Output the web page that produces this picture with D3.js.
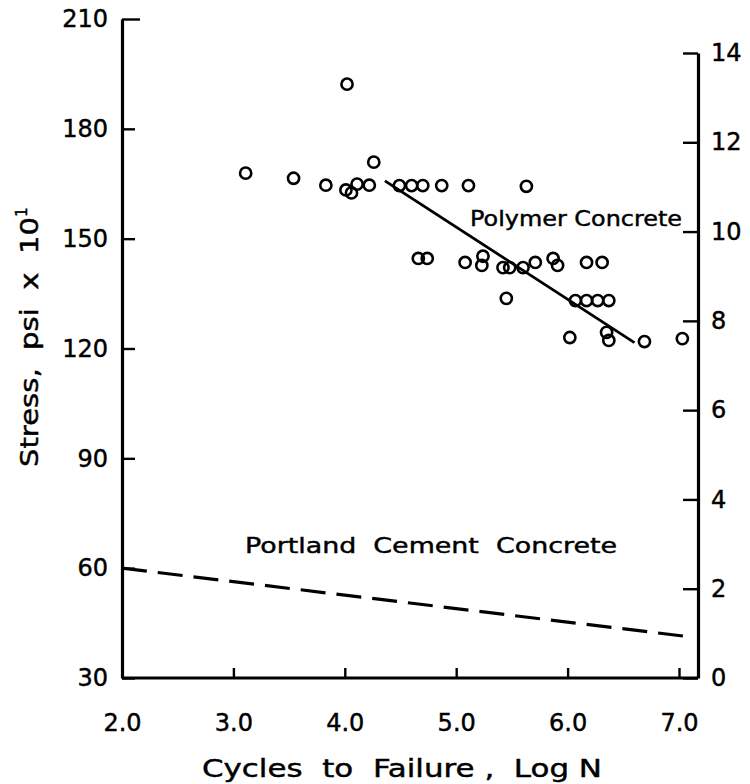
<!DOCTYPE html>
<html>
<head>
<meta charset="utf-8">
<script src="https://cdn.jsdelivr.net/npm/d3@7"></script>
<style>
  html, body { margin: 0; padding: 0; background: #fff; }
  svg { display: block; }
  text { font-family: "DejaVu Sans", sans-serif; fill: #000; stroke: #000; stroke-width: 0.45px; white-space: pre; }
</style>
</head>
<body>
<svg id="chart" width="750" height="784"></svg>
<script>
// ---- data ----
const polyLogN   = [3.11, 3.54, 3.83, 4.01, 4.06, 4.11, 4.22, 4.26, 4.02,
                    4.49, 4.60, 4.70, 4.87, 5.11, 5.63,
                    4.66, 4.74, 5.08, 5.23, 5.24, 5.42, 5.48, 5.60, 5.71, 5.87, 5.91, 6.17, 6.31,
                    5.45, 6.07, 6.17, 6.27, 6.37,
                    6.02, 6.35, 6.37, 6.69, 7.03];
const polyStress = [167.9, 166.5, 164.6, 163.3, 162.5, 164.9, 164.6, 170.9, 192.2,
                    164.5, 164.5, 164.5, 164.5, 164.5, 164.3,
                    144.6, 144.6, 143.5, 142.7, 145.2, 142.1, 142.1, 142.1, 143.5, 144.6, 142.7, 143.5, 143.5,
                    133.7, 133.1, 133.1, 133.1, 133.1,
                    123.0, 124.4, 122.2, 121.9, 122.7];
const fitLogN    = [4.36, 6.60];
const fitStress  = [165.8, 121.6];
const pccLogN    = [2.0, 7.08];
const pccStress  = [60.0, 41.3];

const xTicks      = [2, 3, 4, 5, 6, 7];
const xTickLabels = ["2.0", "3.0", "4.0", "5.0", "6.0", "7.0"];
const yLeftTicks  = [30, 60, 90, 120, 150, 180, 210];
const yRightTicks = [0, 2, 4, 6, 8, 10, 12, 14];

// ---- layout ----
const svg = d3.select("#chart");
const baseY = 678, rightX = 698;
const x  = d3.scaleLinear().domain([2, 7]).range([122, 679]);
const yL = d3.scaleLinear().domain([30, 210]).range([baseY, 19]);
const yR = d3.scaleLinear().domain([0, 14]).range([baseY, 53]);

// left axis
const gL = svg.append("g").attr("transform", `translate(${x(2)},0)`)
  .call(d3.axisLeft(yL).tickValues(yLeftTicks).tickSize(-13).tickPadding(14).tickSizeOuter(0));
// right axis
const gR = svg.append("g").attr("transform", `translate(${rightX},0)`)
  .call(d3.axisRight(yR).tickValues(yRightTicks).tickSize(-15).tickPadding(13).tickSizeOuter(0));
// bottom axis
const gB = svg.append("g").attr("transform", `translate(0,${baseY})`)
  .call(d3.axisBottom(x).tickValues(xTicks).tickFormat((d, i) => xTickLabels[i])
        .tickSize(-10).tickPadding(36).tickSizeOuter(0));
gB.select(".domain").attr("d", `M${x(2)},0H${rightX}`);
gB.selectAll(".tick line").filter(d => d === 2).remove();

[gL, gR, gB].forEach(g => {
  g.select(".domain").attr("stroke", "#000").attr("stroke-width", 3.2).attr("fill", "none");
  g.selectAll(".tick line").attr("stroke", "#000").attr("stroke-width", 2.4);
  g.selectAll(".tick text").style("font-size", "24px").style("font-family", "DejaVu Sans, sans-serif")
    .attr("fill", "#000").style("stroke", "#000").style("stroke-width", "0.45px");
});
gL.selectAll(".tick line").filter(d => d === 210).attr("x2", 18);
gR.selectAll(".tick text").attr("text-anchor", "start");

// polymer regression line
svg.append("line")
  .attr("x1", x(fitLogN[0])).attr("y1", yL(fitStress[0]))
  .attr("x2", x(fitLogN[1])).attr("y2", yL(fitStress[1]))
  .attr("stroke", "#000").attr("stroke-width", 2.8);

// portland cement dashed line
svg.append("line")
  .attr("x1", x(pccLogN[0])).attr("y1", yL(pccStress[0]))
  .attr("x2", x(pccLogN[1])).attr("y2", yL(pccStress[1]))
  .attr("stroke", "#000").attr("stroke-width", 3.2).attr("stroke-dasharray", "25,11");

// data circles
svg.append("g").selectAll("circle")
  .data(polyLogN.map((v, i) => ({ n: v, s: polyStress[i] })))
  .join("circle")
  .attr("cx", d => x(d.n)).attr("cy", d => yL(d.s)).attr("r", 5.6)
  .attr("fill", "none").attr("stroke", "#000").attr("stroke-width", 2.6);

// annotations
svg.append("text").attr("x", 470).attr("y", 226)
  .attr("textLength", 212).attr("lengthAdjust", "spacingAndGlyphs")
  .style("font-size", "22px").text("Polymer Concrete");
svg.append("text").attr("x", 245).attr("y", 553)
  .attr("textLength", 372).attr("lengthAdjust", "spacingAndGlyphs")
  .style("font-size", "22px").text("Portland  Cement  Concrete");

// axis titles
svg.append("text").attr("x", 402).attr("y", 777).attr("text-anchor", "middle")
  .attr("textLength", 400).attr("lengthAdjust", "spacingAndGlyphs")
  .style("font-size", "25px").text("Cycles  to  Failure ,  Log N");

const yt = svg.append("text")
  .attr("transform", "translate(38,467) rotate(-90)")
  .style("font-size", "25px");
yt.append("tspan").attr("textLength", 250).attr("lengthAdjust", "spacingAndGlyphs")
  .text("Stress,  psi  x  10");
yt.append("tspan").attr("dy", -11).style("font-size", "15px").text("1");
</script>
</body>
</html>
